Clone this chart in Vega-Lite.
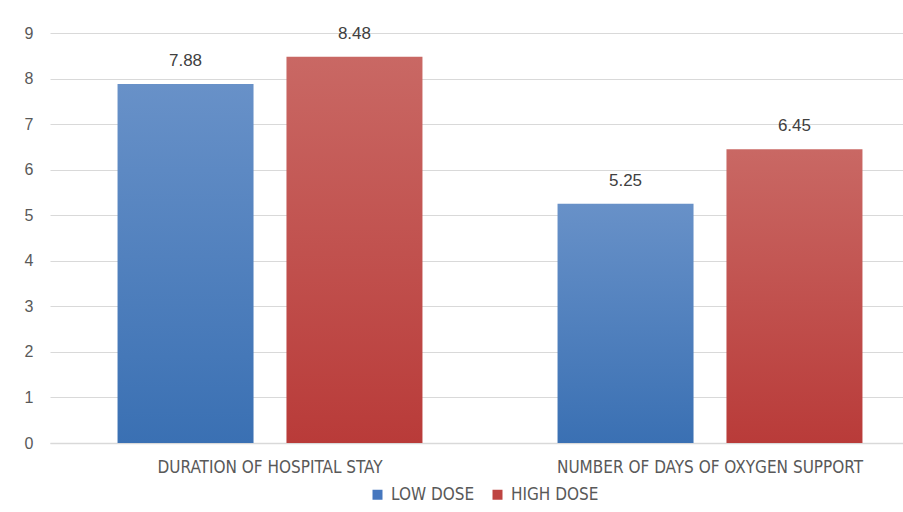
{
  "$schema": "https://vega.github.io/schema/vega-lite/v6.json",
  "width": 880,
  "height": 410,
  "autosize": {"type": "none"},
  "padding": {"left": 50, "top": 33, "right": 0, "bottom": 69},
  "background": "white",
  "config": {
    "view": {"stroke": null},
    "font": "DejaVu Sans Condensed, Liberation Sans Narrow, Liberation Sans, sans-serif"
  },
  "data": {
    "values": [
      {"measure": "DURATION OF HOSPITAL STAY", "dose": "LOW DOSE", "days": 7.88},
      {"measure": "DURATION OF HOSPITAL STAY", "dose": "HIGH DOSE", "days": 8.48},
      {"measure": "NUMBER OF DAYS OF OXYGEN SUPPORT", "dose": "LOW DOSE", "days": 5.25},
      {"measure": "NUMBER OF DAYS OF OXYGEN SUPPORT", "dose": "HIGH DOSE", "days": 6.45}
    ]
  },
  "encoding": {
    "x": {
      "field": "measure",
      "type": "nominal",
      "sort": ["DURATION OF HOSPITAL STAY", "NUMBER OF DAYS OF OXYGEN SUPPORT"],
      "scale": {"paddingInner": 0.307, "paddingOuter": 0.1535},
      "axis": {
        "title": null,
        "labelAngle": 0,
        "labelLimit": 0,
        "ticks": false,
        "domain": true,
        "domainColor": "#D9D9D9",
        "domainWidth": 1.5,
        "labelFontSize": 17,
        "labelColor": "#595959",
        "labelPadding": 16,
        "labelFont": "DejaVu Sans Condensed, Liberation Sans Narrow, Liberation Sans, sans-serif"
      }
    },
    "xOffset": {
      "field": "dose",
      "type": "nominal",
      "sort": ["LOW DOSE", "HIGH DOSE"],
      "scale": {"paddingInner": 0.195, "paddingOuter": 0}
    },
    "y": {
      "field": "days",
      "type": "quantitative",
      "scale": {"domain": [0, 9], "nice": false},
      "axis": {
        "title": null,
        "values": [0, 1, 2, 3, 4, 5, 6, 7, 8, 9],
        "ticks": false,
        "domain": false,
        "gridColor": "#D9D9D9",
        "gridWidth": 1,
        "labelFontSize": 16,
        "labelColor": "#595959",
        "labelPadding": 17,
        "labelFont": "Liberation Sans, sans-serif"
      }
    }
  },
  "layer": [
    {
      "mark": {"type": "bar"},
      "encoding": {
        "color": {
          "field": "dose",
          "type": "nominal",
          "scale": {"domain": ["LOW DOSE", "HIGH DOSE"], "range": ["#4677BE", "#BE4441"]},
          "legend": {
            "title": null,
            "orient": "none",
            "legendX": 319,
            "legendY": 453,
            "direction": "horizontal",
            "symbolType": "square",
            "symbolSize": 100,
            "symbolStrokeWidth": 0,
            "labelFontSize": 17,
            "labelColor": "#595959",
            "labelFont": "DejaVu Sans Condensed, Liberation Sans Narrow, Liberation Sans, sans-serif",
            "labelLimit": 0,
            "columnPadding": 14,
            "labelOffset": 5,
            "padding": 0
          },
          "condition": [
            {
              "test": "datum.dose === 'LOW DOSE'",
              "value": {
                "gradient": "linear",
                "x1": 0, "y1": 0, "x2": 0, "y2": 1,
                "stops": [
                  {"offset": 0, "color": "#6891C8"},
                  {"offset": 1, "color": "#3A70B3"}
                ]
              }
            },
            {
              "test": "datum.dose === 'HIGH DOSE'",
              "value": {
                "gradient": "linear",
                "x1": 0, "y1": 0, "x2": 0, "y2": 1,
                "stops": [
                  {"offset": 0, "color": "#C96864"},
                  {"offset": 1, "color": "#B93B39"}
                ]
              }
            }
          ]
        }
      }
    },
    {
      "mark": {
        "type": "text",
        "baseline": "bottom",
        "dy": -14,
        "fontSize": 17,
        "color": "#404040",
        "font": "Liberation Sans, sans-serif"
      },
      "encoding": {
        "text": {"field": "days", "type": "quantitative", "format": ".2f"}
      }
    }
  ]
}
